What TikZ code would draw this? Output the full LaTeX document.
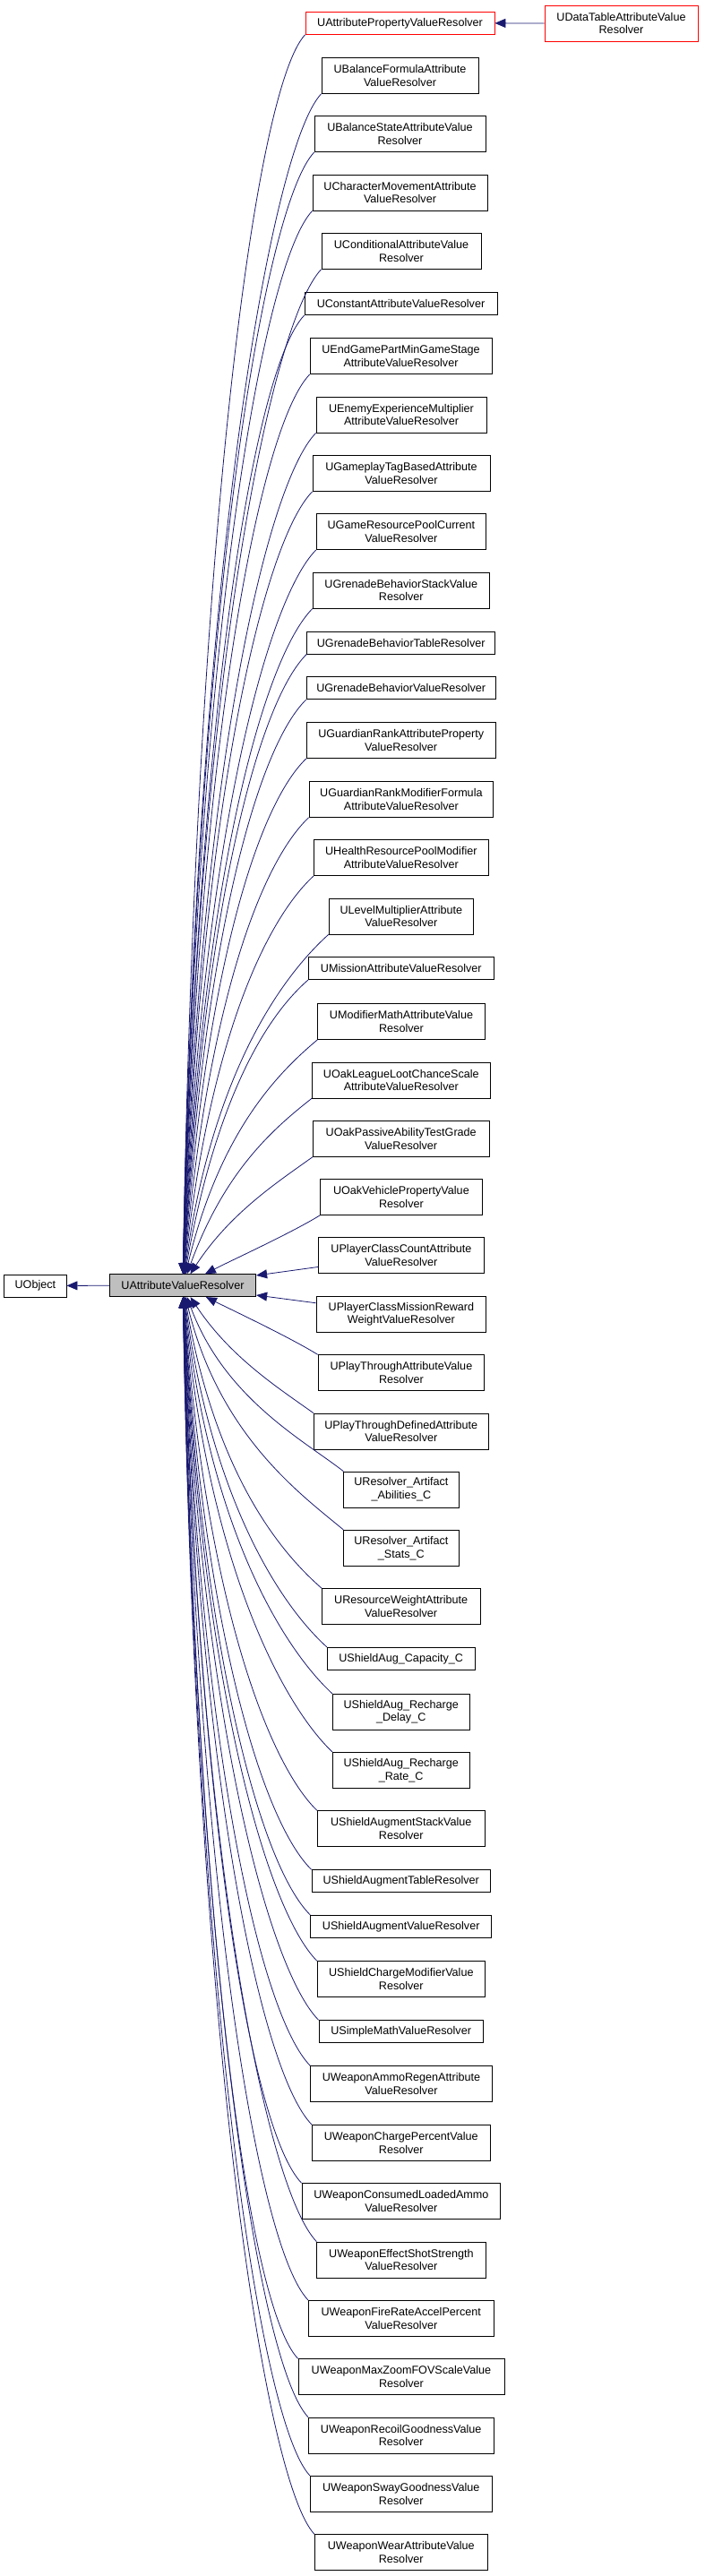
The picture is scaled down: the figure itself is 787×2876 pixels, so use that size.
\documentclass[tikz,border=0pt]{standalone}
\usepackage{fontspec}
\setmainfont{Liberation Sans}
\usetikzlibrary{arrows.meta,calc}
\definecolor{edgeblue}{HTML}{191970}
\definecolor{basegray}{HTML}{BFBFBF}
\newcommand\dn[5]{\node[cls,minimum width=#2pt,minimum height=#3pt] (#1) at (#4) {#5};}
\begin{document}
\begin{tikzpicture}[x=1pt,y=-1pt,
 cls/.style={draw=black,fill=white,line width=0.8pt,inner sep=0pt,align=center,font=\fontsize{12.6}{14.8}\selectfont},
 redcls/.style={cls,draw=red},
 basecls/.style={cls,fill=basegray},
 inh/.style={draw=edgeblue,line width=0.8pt,-{Triangle[length=12pt,width=10pt]}}]
\useasboundingbox (0,0) rectangle (787,2876);
\node[redcls,minimum width=211pt,minimum height=25pt] (c01) at (446.5,25.8) {UAttributePropertyValueResolver};
\node[redcls,minimum width=171pt,minimum height=40pt] (dt) at (693.5,26) {UDataTableAttributeValue\\Resolver};
\node[basecls,minimum width=163.4pt,minimum height=25pt] (base) at (204,1435.2) {UAttributeValueResolver};
\node[cls,minimum width=69.3pt,minimum height=25pt] (uobj) at (39.4,1435.4) {UObject};
\dn{c02}{175}{40}{446.5,84.3}{UBalanceFormulaAttribute\\ValueResolver}
\dn{c03}{191}{40}{446.5,149.7}{UBalanceStateAttributeValue\\Resolver}
\dn{c04}{195}{40}{446.5,215}{UCharacterMovementAttribute\\ValueResolver}
\dn{c05}{178}{40}{448,280.3}{UConditionalAttributeValue\\Resolver}
\dn{c06}{215}{25}{447.5,339.2}{UConstantAttributeValueResolver}
\dn{c07}{203}{40}{447.5,397.7}{UEndGamePartMinGameStage\\AttributeValueResolver}
\dn{c08}{190}{40}{448,463}{UEnemyExperienceMultiplier\\AttributeValueResolver}
\dn{c09}{198}{40}{448,528.5}{UGameplayTagBasedAttribute\\ValueResolver}
\dn{c10}{189.7}{40}{447.9,593.7}{UGameResourcePoolCurrent\\ValueResolver}
\dn{c11}{197}{40}{447.8,659}{UGrenadeBehaviorStackValue\\Resolver}
\dn{c12}{210}{25}{447.7,717.5}{UGrenadeBehaviorTableResolver}
\dn{c13}{211.3}{25}{447.7,768.3}{UGrenadeBehaviorValueResolver}
\dn{c14}{211.3}{40}{447.7,826.7}{UGuardianRankAttributeProperty\\ValueResolver}
\dn{c15}{205.7}{40}{447.9,892.3}{UGuardianRankModifierFormula\\AttributeValueResolver}
\dn{c16}{195}{40}{447.8,957.7}{UHealthResourcePoolModifier\\AttributeValueResolver}
\dn{c17}{161.7}{40}{447.9,1023}{ULevelMultiplierAttribute\\ValueResolver}
\dn{c18}{207}{25}{447.8,1081.2}{UMissionAttributeValueResolver}
\dn{c19}{186.6}{40}{448,1140.5}{UModifierMathAttributeValue\\Resolver}
\dn{c20}{199}{40}{447.8,1206}{UOakLeagueLootChanceScale\\AttributeValueResolver}
\dn{c21}{196.7}{40}{447.7,1271.3}{UOakPassiveAbilityTestGrade\\ValueResolver}
\dn{c22}{180.3}{40}{447.9,1336.3}{UOakVehiclePropertyValue\\Resolver}
\dn{c23}{184.3}{40}{447.9,1401.7}{UPlayerClassCountAttribute\\ValueResolver}
\dn{c24}{189.7}{40}{447.9,1467.3}{UPlayerClassMissionReward\\WeightValueResolver}
\dn{c25}{185.7}{40}{447.9,1532.7}{UPlayThroughAttributeValue\\Resolver}
\dn{c26}{195}{40}{447.8,1598}{UPlayThroughDefinedAttribute\\ValueResolver}
\dn{c27}{128.3}{40}{447.9,1663}{UResolver\_Artifact\\\_Abilities\_C}
\dn{c28}{128.3}{40}{447.9,1728.3}{UResolver\_Artifact\\\_Stats\_C}
\dn{c29}{176.7}{40}{447.7,1793.5}{UResourceWeightAttribute\\ValueResolver}
\dn{c30}{164.7}{25}{447.7,1851.8}{UShieldAug\_Capacity\_C}
\dn{c31}{152.7}{40}{447.7,1911.3}{UShieldAug\_Recharge\\\_Delay\_C}
\dn{c32}{152.7}{40}{447.7,1976.3}{UShieldAug\_Recharge\\\_Rate\_C}
\dn{c33}{187}{40}{447.8,2041.7}{UShieldAugmentStackValue\\Resolver}
\dn{c34}{199.3}{25}{447.7,2100.2}{UShieldAugmentTableResolver}
\dn{c35}{202}{25}{447.7,2150.8}{UShieldAugmentValueResolver}
\dn{c36}{187}{40}{447.8,2209.7}{UShieldChargeModifierValue\\Resolver}
\dn{c37}{183.3}{25}{447.7,2268.2}{USimpleMathValueResolver}
\dn{c38}{202.6}{40}{448,2326.7}{UWeaponAmmoRegenAttribute\\ValueResolver}
\dn{c39}{199}{40}{447.8,2392.3}{UWeaponChargePercentValue\\Resolver}
\dn{c40}{221.7}{40}{447.9,2457.7}{UWeaponConsumedLoadedAmmo\\ValueResolver}
\dn{c41}{188.3}{40}{447.9,2523}{UWeaponEffectShotStrength\\ValueResolver}
\dn{c42}{207}{40}{447.8,2588.3}{UWeaponFireRateAccelPercent\\ValueResolver}
\dn{c43}{230}{40}{448,2653.7}{UWeaponMaxZoomFOVScaleValue\\Resolver}
\dn{c44}{206.7}{40}{447.7,2719}{UWeaponRecoilGoodnessValue\\Resolver}
\dn{c45}{203}{40}{447.8,2784.3}{UWeaponSwayGoodnessValue\\Resolver}
\dn{c46}{192.7}{40}{447.7,2849.7}{UWeaponWearAttributeValue\\Resolver}
% edges
\draw[inh] (dt) -- (c01);
\draw[inh] (base) -- (uobj);
\draw[inh] (c23) -- (base);
\draw[inh] (c24) -- (base);
\foreach \n/\yc in {c01/25.8,c02/84.3,c03/149.7,c04/215,c05/280.3,c06/339.2,c07/397.7,c08/463,c09/528.5,c10/593.7,c11/659,c12/717.5,c13/768.3,c14/826.7,c15/892.3,c16/957.7,c17/1023,c18/1081.2,c19/1140.5,c20/1206,c21/1271.3,c22/1336.3}{
  \pgfmathsetmacro\edy{1435.2-\yc}
  \pgfmathsetmacro\frc{\edy/(\edy+150)}
  \pgfmathsetmacro\angA{20+30*\frc}
  \pgfmathsetmacro\lenA{92*\frc}
  \pgfmathsetmacro\cax{\lenA*cos(\angA)}
  \pgfmathsetmacro\cay{\lenA*sin(\angA)}
  \pgfmathsetmacro\tanB{(\edy-60)/90*(1+\edy/500)}
  \pgfmathsetmacro\cbx{0.59*\edy/sqrt(1+\tanB*\tanB)}
  \pgfmathsetmacro\cby{\cbx*\tanB}
  \draw[inh] (\n.south west) .. controls ($(\n.south west)+(-\cax,\cay)$) and ($(base.center)+(\cbx,-\cby)$) .. (base);
}
\foreach \n/\yc in {c25/1532.7,c26/1598,c27/1663,c28/1728.3,c29/1793.5,c30/1851.8,c31/1911.3,c32/1976.3,c33/2041.7,c34/2100.2,c35/2150.8,c36/2209.7,c37/2268.2,c38/2326.7,c39/2392.3,c40/2457.7,c41/2523,c42/2588.3,c43/2653.7,c44/2719,c45/2784.3,c46/2849.7}{
  \pgfmathsetmacro\edy{\yc-1435.2}
  \pgfmathsetmacro\frc{\edy/(\edy+150)}
  \pgfmathsetmacro\angA{20+30*\frc}
  \pgfmathsetmacro\lenA{92*\frc}
  \pgfmathsetmacro\cax{\lenA*cos(\angA)}
  \pgfmathsetmacro\cay{\lenA*sin(\angA)}
  \pgfmathsetmacro\tanB{(\edy-60)/90*(1+\edy/500)}
  \pgfmathsetmacro\cbx{0.59*\edy/sqrt(1+\tanB*\tanB)}
  \pgfmathsetmacro\cby{\cbx*\tanB}
  \draw[inh] (\n.north west) .. controls ($(\n.north west)+(-\cax,-\cay)$) and ($(base.center)+(\cbx,\cby)$) .. (base);
}
\end{tikzpicture}
\end{document}
